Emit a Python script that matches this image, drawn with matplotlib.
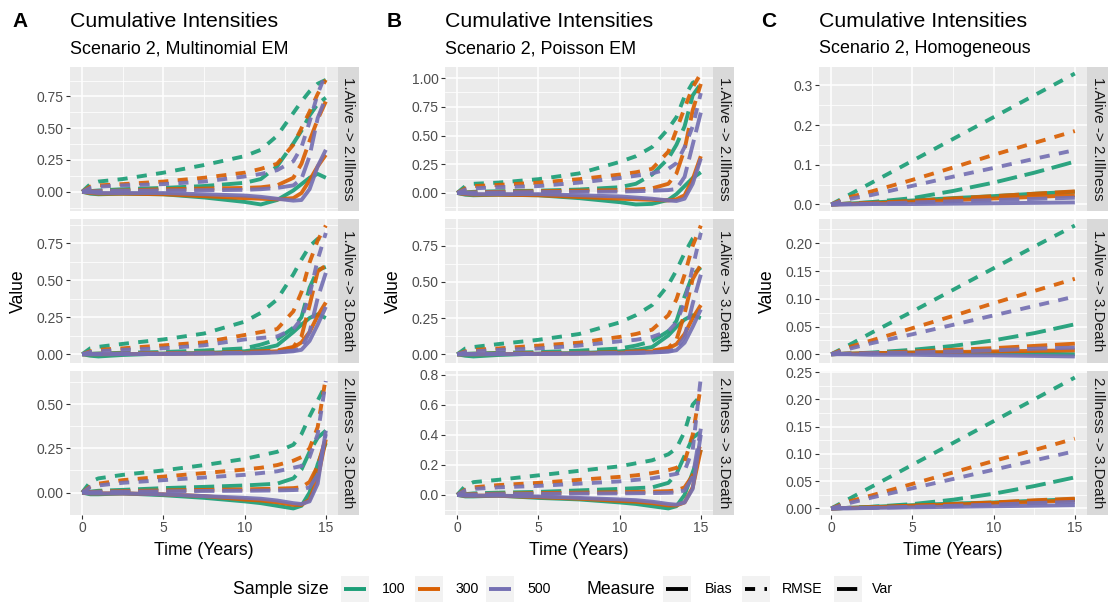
#!/usr/bin/python
"""Cumulative intensity bias / RMSE / variance curves, three estimators side by side."""
import matplotlib
matplotlib.use("Agg")
from matplotlib import pyplot as plt
from matplotlib.patches import Rectangle

plt.rcParams['font.family'] = ['Liberation Sans', 'DejaVu Sans']

# ---------------------------------------------------------------- data
SIZES = ['100', '300', '500']
MEASURES = ['Bias', 'RMSE', 'Var']
TRANSITIONS = ['1.Alive -> 2.Illness', '1.Alive -> 3.Death', '2.Illness -> 3.Death']
PANEL_TAGS = ['A', 'B', 'C']
SUBTITLES = ['Scenario 2, Multinomial EM', 'Scenario 2, Poisson EM', 'Scenario 2, Homogeneous']

# time grid of the EM estimators (panels A and B) and of the homogeneous one (panel C)
T_EM = [0, 0.5, 1, 2.5, 5, 7.5, 10, 11, 12, 13, 13.5, 14, 14.5, 15]
T_HOM = [0, 1, 2.5, 5, 7.5, 10, 12.5, 15]

# each list below holds one curve per sample size (100, 300, 500)
A1_BIAS = [[0, -0.015, -0.02, -0.015, -0.02, -0.045, -0.08, -0.10, -0.065, 0.01, 0.06, 0.11, 0.14, 0.11],
           [0, -0.01, -0.015, -0.015, -0.02, -0.035, -0.05, -0.055, -0.06, -0.05, -0.01, 0.09, 0.20, 0.29],
           [0, -0.005, -0.01, -0.01, -0.01, -0.02, -0.03, -0.04, -0.055, -0.07, -0.065, 0.02, 0.20, 0.33]]
A1_RMSE = [[0, 0.06, 0.08, 0.10, 0.15, 0.21, 0.28, 0.33, 0.44, 0.62, 0.71, 0.79, 0.85, 0.88],
           [0, 0.04, 0.05, 0.06, 0.08, 0.11, 0.15, 0.18, 0.22, 0.37, 0.50, 0.63, 0.77, 0.88],
           [0, 0.03, 0.04, 0.05, 0.06, 0.08, 0.12, 0.14, 0.17, 0.24, 0.35, 0.55, 0.77, 0.93]]
A1_VAR = [[0, 0.005, 0.01, 0.02, 0.03, 0.045, 0.07, 0.10, 0.20, 0.38, 0.48, 0.60, 0.69, 0.74],
          [0, 0.003, 0.005, 0.01, 0.02, 0.025, 0.03, 0.035, 0.05, 0.11, 0.22, 0.40, 0.57, 0.71],
          [0, 0.002, 0.004, 0.008, 0.01, 0.012, 0.015, 0.02, 0.03, 0.05, 0.10, 0.28, 0.58, 0.74]]

A2_BIAS = [[0, -0.01, -0.015, -0.005, 0.005, 0.008, 0.02, 0.035, 0.06, 0.15, 0.20, 0.245, 0.27, 0.245],
           [0, 0.0, 0.0, 0.001, 0.003, 0.005, 0.01, 0.015, 0.02, 0.045, 0.08, 0.15, 0.26, 0.35],
           [0, 0.0, 0.0, 0.001, 0.002, 0.004, 0.006, 0.008, 0.012, 0.02, 0.03, 0.09, 0.20, 0.32]]
A2_RMSE = [[0, 0.04, 0.05, 0.07, 0.10, 0.14, 0.22, 0.28, 0.37, 0.54, 0.64, 0.73, 0.78, 0.79],
           [0, 0.02, 0.03, 0.04, 0.06, 0.08, 0.13, 0.15, 0.17, 0.29, 0.42, 0.62, 0.77, 0.87],
           [0, 0.015, 0.02, 0.03, 0.04, 0.06, 0.10, 0.11, 0.12, 0.17, 0.24, 0.40, 0.64, 0.82]]
A2_VAR = [[0, 0.003, 0.005, 0.01, 0.015, 0.025, 0.04, 0.065, 0.10, 0.18, 0.25, 0.45, 0.57, 0.59],
          [0, 0.002, 0.003, 0.005, 0.008, 0.01, 0.015, 0.02, 0.025, 0.05, 0.12, 0.33, 0.56, 0.60],
          [0, 0.001, 0.002, 0.003, 0.005, 0.007, 0.01, 0.012, 0.015, 0.025, 0.04, 0.15, 0.38, 0.55]]

A3_BIAS = [[0, -0.01, -0.01, -0.005, -0.015, -0.03, -0.05, -0.06, -0.075, -0.09, -0.075, 0.0, 0.16, 0.28],
           [0, -0.005, -0.005, -0.005, -0.01, -0.02, -0.04, -0.045, -0.055, -0.07, -0.07, -0.04, 0.08, 0.30],
           [0, -0.005, -0.005, -0.005, -0.01, -0.02, -0.03, -0.035, -0.045, -0.06, -0.065, -0.05, 0.05, 0.35]]
A3_RMSE = [[0, 0.06, 0.08, 0.10, 0.125, 0.155, 0.19, 0.21, 0.23, 0.27, 0.33, 0.43, 0.52, 0.61],
           [0, 0.035, 0.05, 0.07, 0.09, 0.11, 0.13, 0.14, 0.155, 0.18, 0.20, 0.25, 0.37, 0.65],
           [0, 0.03, 0.04, 0.055, 0.07, 0.085, 0.10, 0.11, 0.12, 0.14, 0.15, 0.20, 0.33, 0.63]]
A3_VAR = [[0, 0.005, 0.01, 0.015, 0.025, 0.032, 0.04, 0.045, 0.05, 0.08, 0.13, 0.23, 0.31, 0.35],
          [0, 0.003, 0.005, 0.008, 0.012, 0.015, 0.018, 0.02, 0.022, 0.025, 0.03, 0.06, 0.15, 0.31],
          [0, 0.002, 0.003, 0.005, 0.007, 0.009, 0.01, 0.011, 0.012, 0.014, 0.016, 0.03, 0.10, 0.33]]

B1_BIAS = [[0, -0.015, -0.02, -0.015, -0.02, -0.045, -0.08, -0.10, -0.095, -0.06, -0.01, 0.06, 0.13, 0.18],
           [0, -0.01, -0.015, -0.015, -0.02, -0.035, -0.05, -0.055, -0.06, -0.065, -0.055, -0.02, 0.12, 0.32],
           [0, -0.005, -0.01, -0.01, -0.01, -0.02, -0.03, -0.04, -0.05, -0.065, -0.07, -0.05, 0.08, 0.30]]
B1_RMSE = [[0, 0.06, 0.08, 0.09, 0.12, 0.17, 0.27, 0.32, 0.40, 0.56, 0.66, 0.84, 0.96, 0.99],
           [0, 0.04, 0.06, 0.07, 0.09, 0.12, 0.16, 0.18, 0.21, 0.36, 0.55, 0.74, 0.92, 1.04],
           [0, 0.03, 0.04, 0.05, 0.06, 0.09, 0.13, 0.15, 0.17, 0.21, 0.26, 0.40, 0.58, 0.87]]
B1_VAR = [[0, 0.005, 0.01, 0.015, 0.02, 0.03, 0.05, 0.08, 0.16, 0.30, 0.42, 0.58, 0.85, 0.95],
          [0, 0.003, 0.005, 0.01, 0.015, 0.02, 0.025, 0.03, 0.04, 0.08, 0.17, 0.38, 0.72, 0.95],
          [0, 0.002, 0.003, 0.005, 0.008, 0.01, 0.012, 0.015, 0.02, 0.025, 0.035, 0.14, 0.42, 0.70]]

B2_BIAS = [[0, -0.01, -0.015, -0.005, 0.005, 0.008, 0.02, 0.03, 0.05, 0.13, 0.19, 0.24, 0.27, 0.25],
           [0, 0.0, 0.0, 0.001, 0.003, 0.005, 0.01, 0.015, 0.02, 0.04, 0.07, 0.14, 0.25, 0.34],
           [0, 0.0, 0.0, 0.001, 0.002, 0.004, 0.006, 0.008, 0.012, 0.018, 0.028, 0.08, 0.19, 0.31]]
B2_RMSE = [[0, 0.04, 0.05, 0.07, 0.10, 0.14, 0.22, 0.27, 0.34, 0.48, 0.58, 0.70, 0.80, 0.84],
           [0, 0.02, 0.03, 0.04, 0.06, 0.08, 0.12, 0.14, 0.17, 0.27, 0.38, 0.55, 0.75, 0.89],
           [0, 0.015, 0.02, 0.03, 0.04, 0.06, 0.09, 0.10, 0.12, 0.16, 0.22, 0.36, 0.60, 0.84]]
B2_VAR = [[0, 0.003, 0.005, 0.01, 0.015, 0.025, 0.04, 0.06, 0.09, 0.16, 0.23, 0.40, 0.55, 0.60],
          [0, 0.002, 0.003, 0.005, 0.008, 0.01, 0.015, 0.02, 0.025, 0.045, 0.10, 0.28, 0.52, 0.62],
          [0, 0.001, 0.002, 0.003, 0.005, 0.007, 0.01, 0.012, 0.015, 0.022, 0.035, 0.12, 0.35, 0.55]]

B3_BIAS = [[0, -0.01, -0.01, -0.005, -0.02, -0.03, -0.05, -0.06, -0.075, -0.09, -0.075, 0.0, 0.15, 0.30],
           [0, -0.005, -0.005, -0.005, -0.015, -0.025, -0.04, -0.045, -0.055, -0.07, -0.07, -0.05, 0.05, 0.30],
           [0, -0.005, -0.005, -0.005, -0.01, -0.02, -0.03, -0.035, -0.045, -0.06, -0.065, -0.05, 0.04, 0.40]]
B3_RMSE = [[0, 0.06, 0.085, 0.10, 0.13, 0.16, 0.19, 0.21, 0.23, 0.27, 0.31, 0.42, 0.60, 0.66],
           [0, 0.035, 0.05, 0.065, 0.08, 0.10, 0.12, 0.13, 0.145, 0.165, 0.18, 0.22, 0.40, 0.72],
           [0, 0.03, 0.04, 0.05, 0.06, 0.075, 0.09, 0.10, 0.11, 0.13, 0.14, 0.16, 0.30, 0.78]]
B3_VAR = [[0, 0.005, 0.01, 0.015, 0.02, 0.03, 0.04, 0.045, 0.05, 0.08, 0.14, 0.26, 0.38, 0.42],
          [0, 0.003, 0.005, 0.008, 0.012, 0.015, 0.018, 0.02, 0.022, 0.025, 0.03, 0.05, 0.13, 0.35],
          [0, 0.002, 0.003, 0.005, 0.007, 0.009, 0.01, 0.011, 0.012, 0.014, 0.016, 0.03, 0.12, 0.44]]

C1_BIAS = [[0, 0.002, 0.005, 0.01, 0.016, 0.021, 0.027, 0.032],
           [0, 0.001, 0.003, 0.007, 0.011, 0.015, 0.019, 0.023],
           [0, 0.0, 0.001, 0.001, 0.002, 0.003, 0.004, 0.005]]
C1_RMSE = [[0, 0.022, 0.055, 0.11, 0.165, 0.22, 0.275, 0.33],
           [0, 0.017, 0.033, 0.062, 0.093, 0.125, 0.155, 0.185],
           [0, 0.013, 0.024, 0.047, 0.07, 0.092, 0.115, 0.137]]
C1_VAR = [[0, 0.002, 0.006, 0.016, 0.034, 0.055, 0.08, 0.108],
          [0, 0.002, 0.004, 0.009, 0.015, 0.021, 0.027, 0.033],
          [0, 0.001, 0.002, 0.005, 0.008, 0.011, 0.014, 0.017]]

C2_BIAS = [[0, 0.001, 0.002, 0.003, 0.003, 0.002, 0.001, 0.0],
           [0, 0.001, 0.002, 0.003, 0.004, 0.005, 0.006, 0.007],
           [0, 0.0, -0.001, -0.001, -0.002, -0.002, -0.003, -0.004]]
C2_RMSE = [[0, 0.015, 0.039, 0.077, 0.116, 0.155, 0.194, 0.232],
           [0, 0.012, 0.025, 0.047, 0.069, 0.092, 0.114, 0.136],
           [0, 0.009, 0.02, 0.036, 0.053, 0.07, 0.087, 0.104]]
C2_VAR = [[0, 0.001, 0.003, 0.008, 0.015, 0.025, 0.038, 0.054],
          [0, 0.001, 0.002, 0.005, 0.008, 0.011, 0.015, 0.019],
          [0, 0.001, 0.002, 0.003, 0.005, 0.007, 0.01, 0.012]]

C3_BIAS = [[0, 0.001, 0.003, 0.006, 0.009, 0.011, 0.014, 0.017],
           [0, 0.001, 0.002, 0.005, 0.007, 0.01, 0.012, 0.015],
           [0, 0.0, 0.001, 0.002, 0.003, 0.004, 0.005, 0.006]]
C3_RMSE = [[0, 0.016, 0.04, 0.08, 0.12, 0.16, 0.2, 0.24],
           [0, 0.012, 0.024, 0.045, 0.066, 0.087, 0.107, 0.128],
           [0, 0.009, 0.02, 0.037, 0.054, 0.071, 0.088, 0.105]]
C3_VAR = [[0, 0.001, 0.003, 0.008, 0.016, 0.027, 0.041, 0.057],
          [0, 0.001, 0.002, 0.005, 0.008, 0.011, 0.015, 0.018],
          [0, 0.001, 0.001, 0.003, 0.005, 0.007, 0.01, 0.012]]

# axis breaks and their labels, per column and facet row
X_TICKS = [0, 5, 10, 15]
X_LABELS = ['0', '5', '10', '15']
Y_TICKS = [[[0, 0.25, 0.5, 0.75], [0, 0.25, 0.5, 0.75], [0, 0.25, 0.5]],
           [[0, 0.25, 0.5, 0.75, 1.0], [0, 0.25, 0.5, 0.75], [0, 0.2, 0.4, 0.6, 0.8]],
           [[0, 0.1, 0.2, 0.3], [0, 0.05, 0.1, 0.15, 0.2], [0, 0.05, 0.1, 0.15, 0.2, 0.25]]]
Y_LABELS = [[['0.00', '0.25', '0.50', '0.75'], ['0.00', '0.25', '0.50', '0.75'], ['0.00', '0.25', '0.50']],
            [['0.00', '0.25', '0.50', '0.75', '1.00'], ['0.00', '0.25', '0.50', '0.75'],
             ['0.0', '0.2', '0.4', '0.6', '0.8']],
            [['0.0', '0.1', '0.2', '0.3'], ['0.00', '0.05', '0.10', '0.15', '0.20'],
             ['0.00', '0.05', '0.10', '0.15', '0.20', '0.25']]]

# ---------------------------------------------------------------- style
SIZE_COLORS = ['#1B9E77', '#D95F02', '#7570B3']
# dash lengths are in units of the line width, as in R's "44" and "73"-like patterns
MEASURE_STYLES = ['-', (0, (2.6, 2.4)), (0, (5.2, 2.0))]
LINE_WIDTH = 2.8

W, H = 1111, 602
COL_LEFT = [70, 445, 819]
ROW_TOP = [67, 219, 371]
PANEL_W, PANEL_H = 268, 144
STRIP_W = 21

fig = plt.figure(figsize=(W / 100, H / 100), dpi=100)


def px_axes(left, top, width, height):
    """Axes placed by pixel box (top-left origin)."""
    return fig.add_axes([left / W, 1 - (top + height) / H, width / W, height / H])


def px_text(x, y, s, **kw):
    fig.text(x / W, 1 - y / H, s, **kw)


def minor_breaks(ticks):
    step = ticks[1] - ticks[0]
    return [t - step / 2 for t in ticks] + [ticks[-1] + step / 2]


COLUMNS = [
    (T_EM, [(A1_BIAS, A1_RMSE, A1_VAR), (A2_BIAS, A2_RMSE, A2_VAR), (A3_BIAS, A3_RMSE, A3_VAR)]),
    (T_EM, [(B1_BIAS, B1_RMSE, B1_VAR), (B2_BIAS, B2_RMSE, B2_VAR), (B3_BIAS, B3_RMSE, B3_VAR)]),
    (T_HOM, [(C1_BIAS, C1_RMSE, C1_VAR), (C2_BIAS, C2_RMSE, C2_VAR), (C3_BIAS, C3_RMSE, C3_VAR)]),
]

for c, (times, rows) in enumerate(COLUMNS):
    left = COL_LEFT[c]
    for r, measures in enumerate(rows):
        ax = px_axes(left, ROW_TOP[r], PANEL_W, PANEL_H)
        ax.set_facecolor('#EBEBEB')
        for spine in ax.spines.values():
            spine.set_visible(False)

        # ggplot draws groups size-major: (100,Bias), (100,RMSE), ... (500,Var)
        for k in range(len(SIZES)):
            for m in range(len(MEASURES)):
                ax.plot(times, measures[m][k], color=SIZE_COLORS[k], linestyle=MEASURE_STYLES[m],
                        linewidth=LINE_WIDTH, alpha=0.92, solid_capstyle='butt')

        xlim = ax.get_xlim()
        ylim = ax.get_ylim()
        ax.set_xticks(X_TICKS)
        ax.set_xticks(minor_breaks(X_TICKS), minor=True)
        ax.set_yticks(Y_TICKS[c][r])
        ax.set_yticklabels(Y_LABELS[c][r])
        ax.set_yticks(minor_breaks(Y_TICKS[c][r]), minor=True)
        ax.set_xlim(xlim)
        ax.set_ylim(ylim)

        ax.grid(which='major', color='white', linewidth=1.1)
        ax.grid(which='minor', color='white', linewidth=0.55)
        ax.set_axisbelow(True)
        ax.tick_params(which='minor', length=0)
        ax.tick_params(which='major', length=3, width=0.8, color='#333333',
                       labelcolor='#4D4D4D', labelsize=10, pad=1.5)
        if r < 2:
            ax.tick_params(axis='x', which='major', bottom=False, labelbottom=False)
        else:
            ax.set_xticklabels(X_LABELS)

        # facet strip on the right
        sax = px_axes(left + PANEL_W, ROW_TOP[r], STRIP_W, PANEL_H)
        sax.set_facecolor('#D9D9D9')
        sax.set_xticks([])
        sax.set_yticks([])
        for spine in sax.spines.values():
            spine.set_visible(False)
        sax.text(0.5, 0.5, TRANSITIONS[r], rotation=270, ha='center', va='center',
                 fontsize=11, color='#1A1A1A', transform=sax.transAxes)

    # titles, tag and axis titles of this column
    px_text(left - 58, 27, PANEL_TAGS[c], fontsize=15, fontweight='bold', color='black',
            ha='left', va='baseline')
    px_text(left, 27, 'Cumulative Intensities', fontsize=15.3, color='black', ha='left', va='baseline')
    px_text(left, 53, SUBTITLES[c], fontsize=12.9, color='black', ha='left', va='baseline')
    px_text(left - 52, ROW_TOP[0] + (ROW_TOP[2] + PANEL_H - ROW_TOP[0]) / 2, 'Value',
            fontsize=12.7, rotation=90, ha='center', va='center')
    px_text(left + PANEL_W / 2, 555, 'Time (Years)', fontsize=12.7, ha='center', va='baseline')

# ---------------------------------------------------------------- legend
lax = fig.add_axes([0, 0, 1, 1])
lax.set_xlim(0, W)
lax.set_ylim(H, 0)
lax.axis('off')

LEG_Y = 589
KEY_W, KEY_H = 28, 27


def legend_key(x0, color, style):
    lax.add_patch(Rectangle((x0, LEG_Y - KEY_H / 2), KEY_W, KEY_H, facecolor='#F2F2F2', edgecolor='none'))
    lax.plot([x0 + 3, x0 + KEY_W - 3], [LEG_Y, LEG_Y], color=color, linestyle=style,
             linewidth=LINE_WIDTH, solid_capstyle='butt')


lax.text(233, LEG_Y, 'Sample size', fontsize=12.7, ha='left', va='center')
for k, x0 in enumerate([341, 415, 486]):
    legend_key(x0, SIZE_COLORS[k], '-')
    lax.text(x0 + 41, LEG_Y, SIZES[k], fontsize=10.2, ha='left', va='center')

lax.text(587, LEG_Y, 'Measure', fontsize=12.7, ha='left', va='center')
for m, (x0, tx) in enumerate([(663, 705), (742, 782), (834, 872)]):
    legend_key(x0, 'black', MEASURE_STYLES[m])
    lax.text(tx, LEG_Y, MEASURES[m], fontsize=10.2, ha='left', va='center')

plt.savefig('out.png', dpi=100)
